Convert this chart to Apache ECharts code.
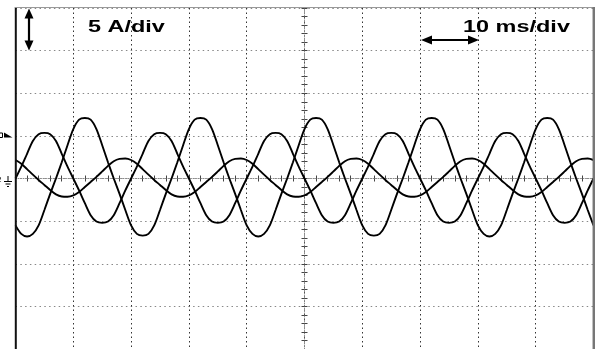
<!DOCTYPE html>
<html>
<head>
<meta charset="utf-8">
<script src="https://cdn.jsdelivr.net/npm/echarts@6/dist/echarts.min.js"></script>
<style>
html,body{margin:0;padding:0;background:#fff;}
#chart{width:595px;height:349px;}
</style>
</head>
<body>
<div id="chart"></div>
<script>
// time samples in ms (10 ms/div, 10 divisions)
var times = [-50,-49,-48,-47,-46,-45,-44,-43,-42,-41,-40,-39,-38,-37,-36,-35,-34,-33,-32,-31,
-30,-29,-28,-27,-26,-25,-24,-23,-22,-21,-20,-19,-18,-17,-16,-15,-14,-13,-12,-11,
-10,-9,-8,-7,-6,-5,-4,-3,-2,-1,0,1,2,3,4,5,6,7,8,9,10,11,12,13,14,15,16,17,18,19,
20,21,22,23,24,25,26,27,28,29,30,31,32,33,34,35,36,37,38,39,40,41,42,43,44,45,46,47,48,49,50];

// phase currents in A (5 A/div)
var currentA = [-5.5,-6.5,-6.8,-6.5,-5.5,-3.7,-1.8,0.0,1.9,3.9,
5.8,6.9,7.1,6.9,5.8,3.9,1.9,0.0,-1.8,-3.7,
-5.5,-6.5,-6.7,-6.5,-5.5,-3.7,-1.8,0.0,1.9,3.9,
5.8,6.9,7.1,6.9,5.8,3.9,1.9,0.0,-1.8,-3.7,
-5.5,-6.5,-6.8,-6.5,-5.5,-3.7,-1.8,0.0,1.9,3.9,
5.8,6.9,7.1,6.9,5.8,3.9,1.9,0.0,-1.8,-3.7,
-5.5,-6.5,-6.7,-6.5,-5.5,-3.7,-1.8,0.0,1.9,3.9,
5.8,6.9,7.1,6.9,5.8,3.9,1.9,0.0,-1.8,-3.7,
-5.5,-6.5,-6.8,-6.5,-5.5,-3.7,-1.8,0.0,1.9,3.9,
5.8,6.9,7.1,6.9,5.8,3.9,1.9,0.0,-1.8,-3.7,-5.5];

var currentB = [0.0,1.4,2.9,4.4,5.2,5.35,5.2,4.4,2.9,1.4,
0.0,-1.4,-2.9,-4.3,-5.05,-5.2,-5.05,-4.3,-2.9,-1.4,
0.0,1.4,2.9,4.4,5.2,5.35,5.2,4.4,2.9,1.4,
0.0,-1.4,-2.9,-4.3,-5.05,-5.2,-5.05,-4.3,-2.9,-1.4,
0.0,1.4,2.9,4.4,5.2,5.35,5.2,4.4,2.9,1.4,
0.0,-1.4,-2.9,-4.3,-5.05,-5.2,-5.05,-4.3,-2.9,-1.4,
0.0,1.4,2.9,4.4,5.2,5.35,5.2,4.4,2.9,1.4,
0.0,-1.4,-2.9,-4.3,-5.05,-5.2,-5.05,-4.3,-2.9,-1.4,
0.0,1.4,2.9,4.4,5.2,5.35,5.2,4.4,2.9,1.4,
0.0,-1.4,-2.9,-4.3,-5.05,-5.2,-5.05,-4.3,-2.9,-1.4,0.0];

var currentC = [2.17,1.74,1.1,0.45,-0.17,-0.76,-1.35,-1.86,-2.11,-2.14,
-1.99,-1.59,-1.0,-0.41,0.19,0.83,1.48,2.03,2.3,2.34,
2.17,1.74,1.1,0.45,-0.17,-0.76,-1.35,-1.86,-2.11,-2.14,
-1.99,-1.59,-1.0,-0.41,0.19,0.83,1.48,2.03,2.3,2.34,
2.17,1.74,1.1,0.45,-0.17,-0.76,-1.35,-1.86,-2.11,-2.14,
-1.99,-1.59,-1.0,-0.41,0.19,0.83,1.48,2.03,2.3,2.34,
2.17,1.74,1.1,0.45,-0.17,-0.76,-1.35,-1.86,-2.11,-2.14,
-1.99,-1.59,-1.0,-0.41,0.19,0.83,1.48,2.03,2.3,2.34,
2.17,1.74,1.1,0.45,-0.17,-0.76,-1.35,-1.86,-2.11,-2.14,
-1.99,-1.59,-1.0,-0.41,0.19,0.83,1.48,2.03,2.3,2.34,2.17];

var voltLabel = '5 A/div';
var timeLabel = '10 ms/div';

function pairs(vals){ return times.map(function(t,i){ return [t, vals[i]]; }); }

var chart = echarts.init(document.getElementById('chart'), null, {renderer:'canvas'});

var tickStyle = {color:'#444', width:1};
function xAx(idx, pos, split){
  return {
    type:'value', min:-50, max:50, interval:10, position:pos,
    axisLine:{show:true, onZero:true, onZeroAxisIndex:idx,
      lineStyle:{color: split ? '#8a8a8a' : 'rgba(0,0,0,0)', width:1, type:[1,1.5]}},
    axisTick:{show:true, length:3, lineStyle:tickStyle},
    minorTick:{show:true, splitNumber:5, length:3, lineStyle:tickStyle},
    axisLabel:{show:false},
    splitLine:{show:split, lineStyle:{color:'#333', width:1, type:[1.5,3]}}
  };
}
function yAx(idx, pos, split){
  return {
    type:'value', min:-20, max:20, interval:5, position:pos,
    axisLine:{show:true, onZero:true, onZeroAxisIndex:idx,
      lineStyle:{color: split ? '#8a8a8a' : 'rgba(0,0,0,0)', width:1, type:[1,1.5]}},
    axisTick:{show:true, length:3, lineStyle:tickStyle},
    minorTick:{show:true, splitNumber:5, length:3, lineStyle:tickStyle},
    axisLabel:{show:false},
    splitLine:{show:split, lineStyle:{color:'#888', width:1, type:[1.5,3.3]}}
  };
}

function wave(name, vals){
  return {
    name:name, type:'line', xAxisIndex:0, yAxisIndex:0,
    data:pairs(vals), showSymbol:false, symbol:'none', smooth:0.3,
    lineStyle:{color:'#000', width:1.9}, z:5
  };
}

var option = {
  animation:false,
  backgroundColor:'#fff',
  grid:{left:15.5, top:8, width:578, height:344, containLabel:false},
  xAxis:[xAx(0,'bottom',true), xAx(1,'top',false)],
  yAxis:[yAx(0,'left',true), yAx(1,'right',false)],
  series:[wave('A', currentA), wave('B', currentB), wave('C', currentC)],
  graphic:[
    {type:'line', shape:{x1:15.8,y1:7,x2:15.8,y2:349}, style:{stroke:'#111', lineWidth:2}, z:20},
    {type:'line', shape:{x1:15,y1:7.5,x2:595,y2:7.5}, style:{stroke:'#999', lineWidth:1}, z:20},
    {type:'line', shape:{x1:593.8,y1:7,x2:593.8,y2:349}, style:{stroke:'#777', lineWidth:2.5}, z:20},
    {type:'text', x:88, y:27, scaleX:1.38, style:{text:voltLabel, font:'bold 17px "Liberation Sans", Arial, sans-serif', fill:'#000', verticalAlign:'middle', align:'left'}, z:20},
    {type:'text', x:463, y:27, scaleX:1.38, style:{text:timeLabel, font:'bold 17px "Liberation Sans", Arial, sans-serif', fill:'#000', verticalAlign:'middle', align:'left'}, z:20},
    // vertical double arrow
    {type:'line', shape:{x1:29,y1:15,x2:29,y2:44}, style:{stroke:'#000', lineWidth:2.2}, z:20},
    {type:'polygon', shape:{points:[[29,8.5],[24.5,18.5],[33.5,18.5]]}, style:{fill:'#000'}, z:20},
    {type:'polygon', shape:{points:[[29,50.5],[24.5,40.5],[33.5,40.5]]}, style:{fill:'#000'}, z:20},
    // horizontal double arrow
    {type:'line', shape:{x1:428,y1:40,x2:472,y2:40}, style:{stroke:'#000', lineWidth:2.2}, z:20},
    {type:'polygon', shape:{points:[[421,40],[432,35.5],[432,44.5]]}, style:{fill:'#000'}, z:20},
    {type:'polygon', shape:{points:[[479,40],[468,35.5],[468,44.5]]}, style:{fill:'#000'}, z:20},
    // channel / trigger marker
    {type:'rect', shape:{x:-1,y:133,width:3.5,height:4.5}, style:{fill:'none', stroke:'#000', lineWidth:1}, z:20},
    {type:'polygon', shape:{points:[[4,132.5],[12.5,137.5],[4,137.5]]}, style:{fill:'#000'}, z:20},
    // ground marker
    {type:'text', x:-3, y:180, style:{text:'2', font:'8px "Liberation Sans", Arial, sans-serif', fill:'#000', verticalAlign:'middle'}, z:20},
    {type:'line', shape:{x1:8,y1:176,x2:8,y2:181}, style:{stroke:'#000', lineWidth:1}, z:20},
    {type:'line', shape:{x1:4,y1:181.5,x2:12,y2:181.5}, style:{stroke:'#000', lineWidth:1}, z:20},
    {type:'line', shape:{x1:5.5,y1:184,x2:10.5,y2:184}, style:{stroke:'#000', lineWidth:1}, z:20},
    {type:'line', shape:{x1:7,y1:186.5,x2:9,y2:186.5}, style:{stroke:'#000', lineWidth:1}, z:20}
  ]
};
chart.setOption(option);
</script>
</body>
</html>
